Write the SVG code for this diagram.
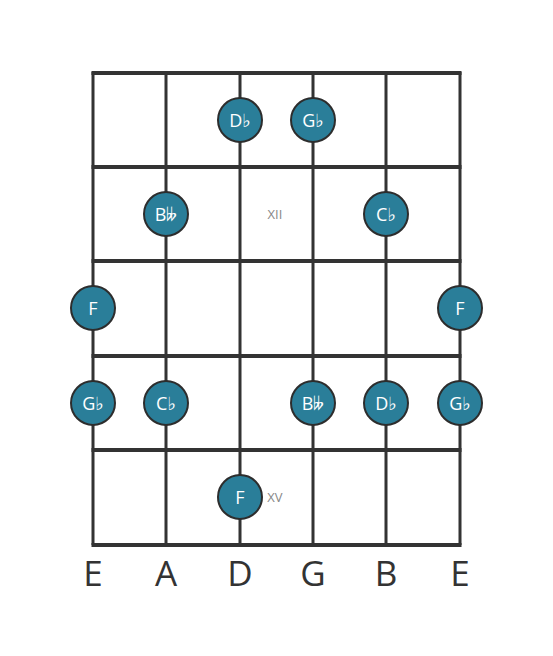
<svg xmlns="http://www.w3.org/2000/svg" width="553" height="656" viewBox="0 0 553 656">
<style>
.str{stroke:#333;stroke-width:3}
.fret{stroke:#333;stroke-width:4}
.note circle{fill:#2a7e99;stroke:#2d2d2d;stroke-width:2}
.note text{fill:#fff;font-family:"Open Sans","DejaVu Sans",sans-serif;font-size:18px;text-anchor:middle;dominant-baseline:central}
.pos{fill:#888;font-family:"Open Sans",sans-serif;font-size:13px;text-anchor:middle;dominant-baseline:central}
.sn{fill:#333;font-family:"Open Sans",sans-serif;font-size:35px;text-anchor:middle;dominant-baseline:central}
</style>
<rect width="553" height="656" fill="#fff"/>
<g id="board">
<line class="str" x1="93" y1="72" x2="93" y2="545"/>
<line class="str" x1="166" y1="72" x2="166" y2="545"/>
<line class="str" x1="240" y1="72" x2="240" y2="545"/>
<line class="str" x1="313" y1="72" x2="313" y2="545"/>
<line class="str" x1="386" y1="72" x2="386" y2="545"/>
<line class="str" x1="460" y1="72" x2="460" y2="545"/>
<line class="fret" x1="91.5" y1="73" x2="461.5" y2="73"/>
<line class="fret" x1="91.5" y1="167" x2="461.5" y2="167"/>
<line class="fret" x1="91.5" y1="261" x2="461.5" y2="261"/>
<line class="fret" x1="91.5" y1="356" x2="461.5" y2="356"/>
<line class="fret" x1="91.5" y1="450" x2="461.5" y2="450"/>
<line class="fret" x1="91.5" y1="545" x2="461.5" y2="545"/>
</g>
<text class="pos" x="275" y="214">XII</text>
<text class="pos" x="275" y="497">XV</text>
<g id="n1" class="note"><circle cx="240" cy="120" r="22"/><text x="240" y="120">D♭</text></g>
<g id="n2" class="note"><circle cx="313" cy="120" r="22"/><text x="313" y="120">G♭</text></g>
<g id="n3" class="note"><circle cx="166" cy="214" r="22"/><text x="166" y="214">B𝄫</text></g>
<g id="n4" class="note"><circle cx="386" cy="214" r="22"/><text x="386" y="214">C♭</text></g>
<g id="n5" class="note"><circle cx="93" cy="308" r="22"/><text x="93" y="308">F</text></g>
<g id="n6" class="note"><circle cx="460" cy="308" r="22"/><text x="460" y="308">F</text></g>
<g id="n7" class="note"><circle cx="93" cy="403" r="22"/><text x="93" y="403">G♭</text></g>
<g id="n8" class="note"><circle cx="166" cy="403" r="22"/><text x="166" y="403">C♭</text></g>
<g id="n9" class="note"><circle cx="313" cy="403" r="22"/><text x="313" y="403">B𝄫</text></g>
<g id="n10" class="note"><circle cx="386" cy="403" r="22"/><text x="386" y="403">D♭</text></g>
<g id="n11" class="note"><circle cx="460" cy="403" r="22"/><text x="460" y="403">G♭</text></g>
<g id="n12" class="note"><circle cx="240" cy="497" r="22"/><text x="240" y="497">F</text></g>
<g id="labels">
<text class="sn" x="93" y="572">E</text>
<text class="sn" x="166" y="572">A</text>
<text class="sn" x="240" y="572">D</text>
<text class="sn" x="313" y="572">G</text>
<text class="sn" x="386" y="572">B</text>
<text class="sn" x="460" y="572">E</text>
</g>
</svg>
